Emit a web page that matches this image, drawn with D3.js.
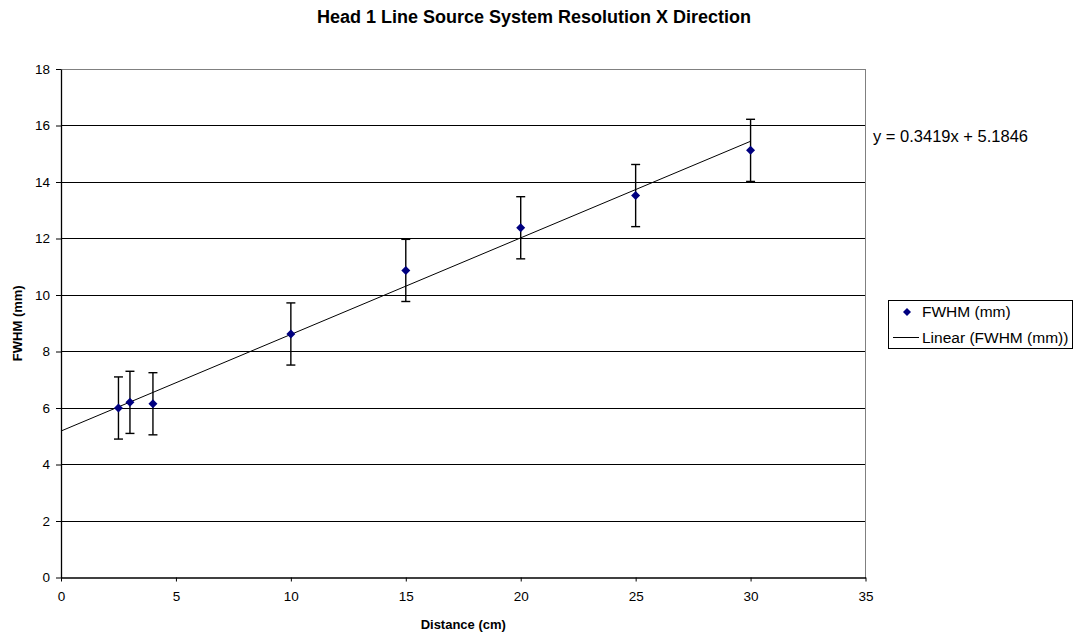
<!DOCTYPE html>
<html>
<head>
<meta charset="utf-8">
<script src="https://cdn.jsdelivr.net/npm/d3@7"></script>
<style>
  body { margin: 0; background: #fff; }
  svg text { font-family: "Liberation Sans", Arial, sans-serif; fill: #000; }
</style>
</head>
<body>
<div id="chart"></div>
<script>
// data
var distances = [2.5, 3, 4, 10, 15, 20, 25, 30];
var fwhm = [6.0, 6.2, 6.15, 8.62, 10.87, 12.38, 13.52, 15.12];
var errors = [1.1, 1.1, 1.1, 1.1, 1.1, 1.1, 1.1, 1.1];
var slope = 0.3419, intercept = 5.1846;
var trendRange = [0, 30];
var xTicks = [0, 5, 10, 15, 20, 25, 30, 35];
var yTicks = [0, 2, 4, 6, 8, 10, 12, 14, 16, 18];

var w = 1077, h = 639;
var plotLeft = 61, plotTop = 69, plotRight = 865.5, plotBottom = 577.5;

var svg = d3.select("#chart").append("svg")
    .attr("width", w).attr("height", h);

var xScale = d3.scaleLinear().domain([0, 35]).range([plotLeft, plotRight]);
var yScale = d3.scaleLinear().domain([0, 18]).range([plotBottom, plotTop]);

// gridlines
svg.append("g")
    .selectAll("line")
    .data(yTicks.filter(function(d) { return d > 0 && d < 18; }))
    .enter().append("line")
    .attr("x1", plotLeft).attr("x2", plotRight)
    .attr("y1", function(d) { return yScale(d); })
    .attr("y2", function(d) { return yScale(d); })
    .attr("stroke", "#000").attr("stroke-width", 1)
    .attr("shape-rendering", "crispEdges");

// plot frame (top & right grey)
svg.append("line").attr("x1", plotLeft).attr("x2", plotRight).attr("y1", plotTop).attr("y2", plotTop)
    .attr("stroke", "#808080").attr("shape-rendering", "crispEdges");
svg.append("line").attr("x1", plotRight).attr("x2", plotRight).attr("y1", plotTop).attr("y2", plotBottom)
    .attr("stroke", "#808080").attr("shape-rendering", "crispEdges");

// axes
var xAxis = d3.axisBottom(xScale).tickValues(xTicks).tickSize(4).tickSizeOuter(0).tickPadding(10);
var yAxis = d3.axisLeft(yScale).tickValues(yTicks).tickSize(5).tickSizeOuter(0).tickPadding(6);

var gx = svg.append("g")
    .attr("transform", "translate(0," + plotBottom + ")")
    .call(xAxis);
var gy = svg.append("g")
    .attr("transform", "translate(" + plotLeft + ",0)")
    .call(yAxis);

[gx, gy].forEach(function(g) {
  g.select(".domain").attr("stroke", "#000").attr("stroke-width", 1.3);
  g.selectAll(".tick line").attr("stroke", "#000");
  g.selectAll(".tick text").attr("font-size", "13.5px").attr("fill", "#000")
    .attr("font-family", "Liberation Sans, Arial, sans-serif");
});

// trendline
svg.append("line")
    .attr("x1", xScale(trendRange[0])).attr("y1", yScale(slope * trendRange[0] + intercept))
    .attr("x2", xScale(trendRange[1])).attr("y2", yScale(slope * trendRange[1] + intercept))
    .attr("stroke", "#000").attr("stroke-width", 1);

// error bars
var eb = svg.append("g").selectAll("g")
    .data(distances)
    .enter().append("g");
eb.append("line")
    .attr("x1", function(d) { return xScale(d); })
    .attr("x2", function(d) { return xScale(d); })
    .attr("y1", function(d, i) { return yScale(fwhm[i] + errors[i]); })
    .attr("y2", function(d, i) { return yScale(fwhm[i] - errors[i]); })
    .attr("stroke", "#000").attr("stroke-width", 1.4);
[1, -1].forEach(function(sgn) {
  eb.append("line")
    .attr("x1", function(d) { return xScale(d) - 4.5; })
    .attr("x2", function(d) { return xScale(d) + 4.5; })
    .attr("y1", function(d, i) { return yScale(fwhm[i] + sgn * errors[i]); })
    .attr("y2", function(d, i) { return yScale(fwhm[i] + sgn * errors[i]); })
    .attr("stroke", "#000").attr("stroke-width", 1.4);
});

// markers
svg.append("g").selectAll("path")
    .data(distances)
    .enter().append("path")
    .attr("d", "M0,-4.5L4.5,0L0,4.5L-4.5,0Z")
    .attr("transform", function(d, i) {
      return "translate(" + xScale(d) + "," + yScale(fwhm[i]) + ")";
    })
    .attr("fill", "#000080");

// equation
svg.append("text")
    .attr("x", 873).attr("y", 142)
    .attr("font-size", "16.5px")
    .text("y = " + slope + "x + " + intercept);

// title
svg.append("text")
    .attr("x", 534).attr("y", 23)
    .attr("text-anchor", "middle")
    .attr("font-size", "18px").attr("font-weight", "bold")
    .text("Head 1 Line Source System Resolution X Direction");

// axis titles
svg.append("text")
    .attr("x", (plotLeft + plotRight) / 2).attr("y", 629)
    .attr("text-anchor", "middle")
    .attr("font-size", "13px").attr("font-weight", "bold")
    .text("Distance (cm)");
svg.append("text")
    .attr("transform", "translate(22," + ((plotTop + plotBottom) / 2) + ") rotate(-90)")
    .attr("text-anchor", "middle")
    .attr("font-size", "13px").attr("font-weight", "bold")
    .text("FWHM (mm)");

// legend
var lg = svg.append("g").attr("transform", "translate(888,300)");
lg.append("rect").attr("x", 0.5).attr("y", 0.5).attr("width", 184).attr("height", 48)
    .attr("fill", "#fff").attr("stroke", "#000");
lg.append("path").attr("d", "M0,-4L4,0L0,4L-4,0Z")
    .attr("transform", "translate(19,12)").attr("fill", "#000080");
lg.append("text").attr("x", 34).attr("y", 17).attr("font-size", "15.5px").text("FWHM (mm)");
lg.append("line").attr("x1", 5).attr("x2", 31).attr("y1", 37.5).attr("y2", 37.5).attr("stroke", "#000");
lg.append("text").attr("x", 34).attr("y", 43).attr("font-size", "15.5px").text("Linear (FWHM (mm))");
</script>
</body>
</html>
